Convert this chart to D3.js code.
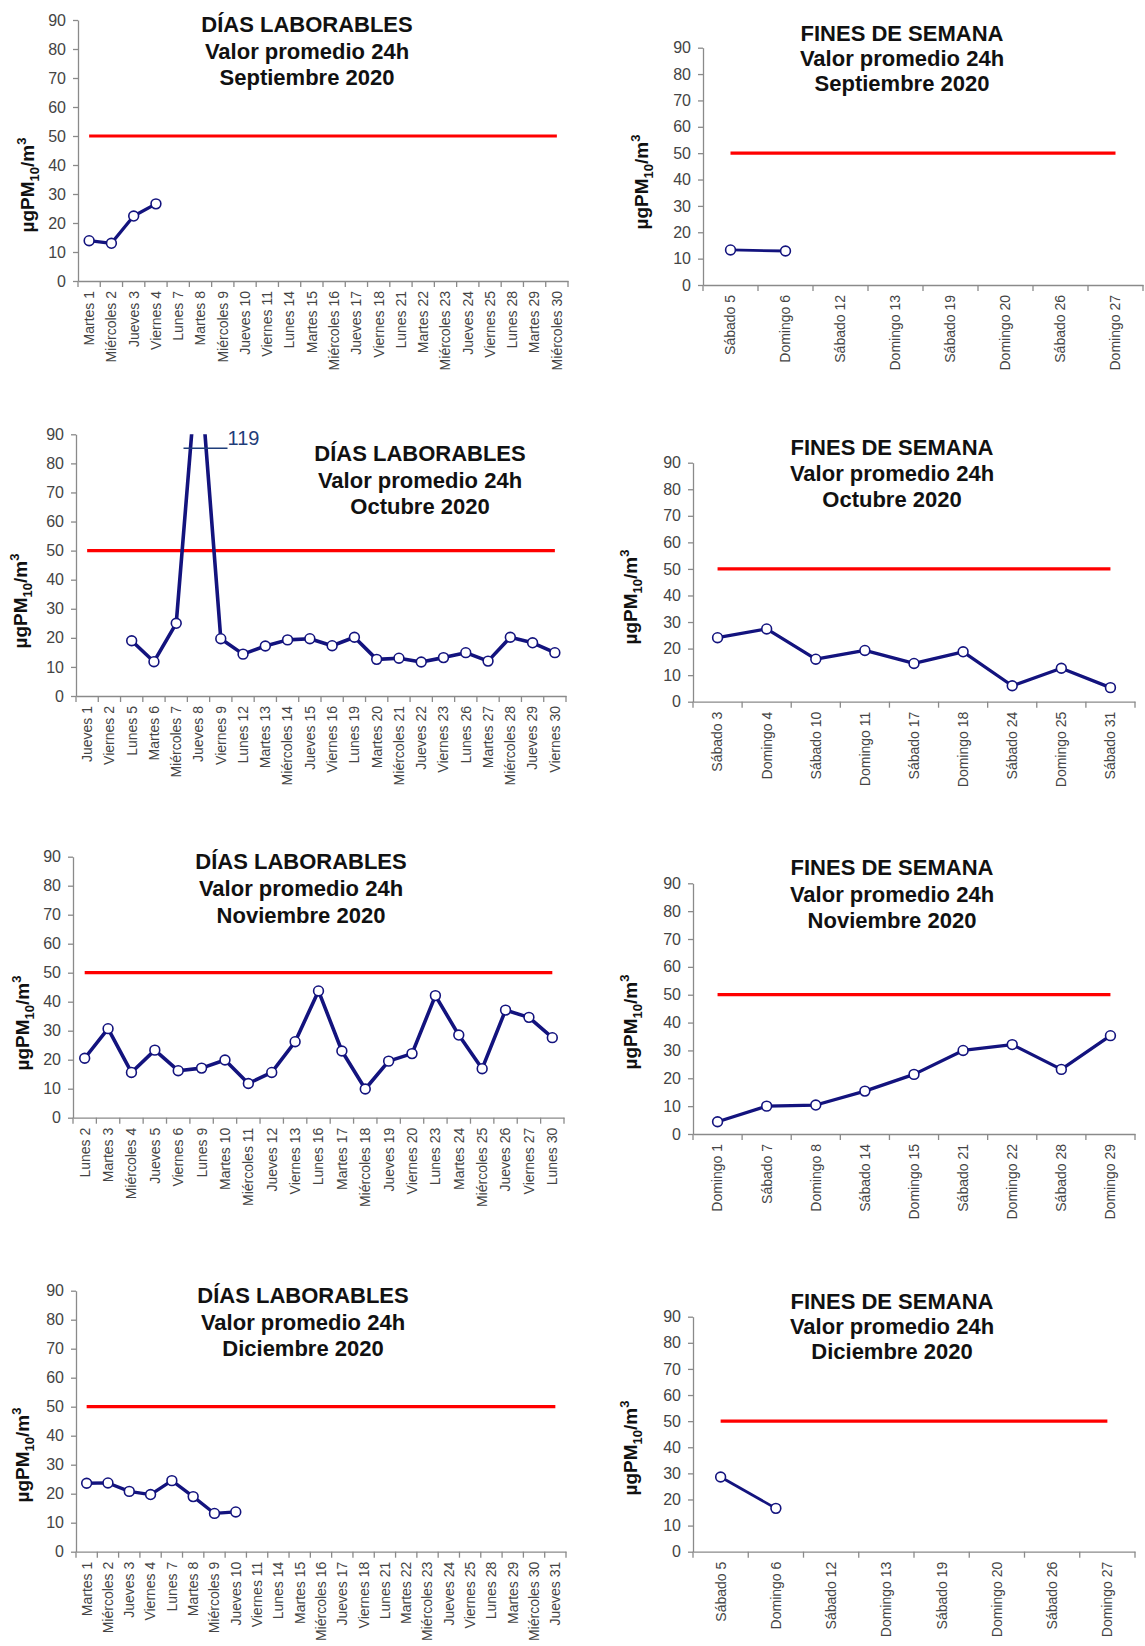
<!DOCTYPE html>
<html><head><meta charset="utf-8">
<script src="https://cdn.jsdelivr.net/npm/d3@7"></script>
<style>
body{margin:0;background:#fff;}
svg{display:block;font-family:"Liberation Sans",Arial,sans-serif;}
</style></head>
<body>
<svg id="c" width="1145" height="1646"></svg>
<script>
// ---------------- DATA ----------------
const limitValue = 50;
const yTicks = [0,10,20,30,40,50,60,70,80,90];

const sepWeekdays = ["Martes 1","Miércoles 2","Jueves 3","Viernes 4","Lunes 7","Martes 8","Miércoles 9","Jueves 10","Viernes 11","Lunes 14","Martes 15","Miércoles 16","Jueves 17","Viernes 18","Lunes 21","Martes 22","Miércoles 23","Jueves 24","Viernes 25","Lunes 28","Martes 29","Miércoles 30"];
const sepWeekdayValues = [13.9,13.0,22.4,26.6,null,null,null,null,null,null,null,null,null,null,null,null,null,null,null,null,null,null];

const sepWeekends = ["Sábado 5","Domingo 6","Sábado 12","Domingo 13","Sábado 19","Domingo 20","Sábado 26","Domingo 27"];
const sepWeekendValues = [13.3,12.9,null,null,null,null,null,null];

const octWeekdays = ["Jueves 1","Viernes 2","Lunes 5","Martes 6","Miércoles 7","Jueves 8","Viernes 9","Lunes 12","Martes 13","Miércoles 14","Jueves 15","Viernes 16","Lunes 19","Martes 20","Miércoles 21","Jueves 22","Viernes 23","Lunes 26","Martes 27","Miércoles 28","Jueves 29","Viernes 30"];
const octWeekdayValues = [null,null,19.0,11.8,25.0,119,19.7,14.4,17.2,19.3,19.7,17.3,20.2,12.6,13.0,11.7,13.2,14.9,12.0,20.2,18.3,14.9];

const octWeekends = ["Sábado 3","Domingo 4","Sábado 10","Domingo 11","Sábado 17","Domingo 18","Sábado 24","Domingo 25","Sábado 31"];
const octWeekendValues = [24.1,27.4,16.0,19.3,14.4,18.8,6.0,12.6,5.3];

const novWeekdays = ["Lunes 2","Martes 3","Miércoles 4","Jueves 5","Viernes 6","Lunes 9","Martes 10","Miércoles 11","Jueves 12","Viernes 13","Lunes 16","Martes 17","Miércoles 18","Jueves 19","Viernes 20","Lunes 23","Martes 24","Miércoles 25","Jueves 26","Viernes 27","Lunes 30"];
const novWeekdayValues = [20.5,30.7,15.6,23.3,16.2,17.1,19.9,11.8,15.6,26.2,43.7,23.0,9.9,19.5,22.1,42.1,28.5,16.9,37.1,34.6,27.6];

const novWeekends = ["Domingo 1","Sábado 7","Domingo 8","Sábado 14","Domingo 15","Sábado 21","Domingo 22","Sábado 28","Domingo 29"];
const novWeekendValues = [4.4,10.0,10.4,15.4,21.4,30.0,32.1,23.2,35.3];

const decWeekdays = ["Martes 1","Miércoles 2","Jueves 3","Viernes 4","Lunes 7","Martes 8","Miércoles 9","Jueves 10","Viernes 11","Lunes 14","Martes 15","Miércoles 16","Jueves 17","Viernes 18","Lunes 21","Martes 22","Miércoles 23","Jueves 24","Viernes 25","Lunes 28","Martes 29","Miércoles 30","Jueves 31"];
const decWeekdayValues = [23.6,23.7,20.8,19.7,24.5,19.0,13.2,13.7,null,null,null,null,null,null,null,null,null,null,null,null,null,null,null];

const decWeekends = ["Sábado 5","Domingo 6","Sábado 12","Domingo 13","Sábado 19","Domingo 20","Sábado 26","Domingo 27"];
const decWeekendValues = [28.6,16.6,null,null,null,null,null,null];

const titleWeekday = "DÍAS LABORABLES";
const titleWeekend = "FINES DE SEMANA";
const subtitle = "Valor promedio 24h";
const months = ["Septiembre 2020","Octubre 2020","Noviembre 2020","Diciembre 2020"];
const outlierLabel = "119";

// ---------------- LAYOUT ----------------
const panels = [
 {cats:sepWeekdays, vals:sepWeekdayValues, t:titleWeekday, m:months[0], x0:78, x1:568, yTop:20, yBot:281, tx:307, tb:[32,59,85], lx:27, ly:185, lw:3.3},
 {cats:sepWeekends, vals:sepWeekendValues, t:titleWeekend, m:months[0], x0:703, x1:1143, yTop:47.7, yBot:285, tx:902, tb:[41,66,91], lx:641, ly:182, lw:2.8},
 {cats:octWeekdays, vals:octWeekdayValues, t:titleWeekday, m:months[1], x0:76, x1:566, yTop:434.3, yBot:696, tx:420, tb:[461,488,514], lx:20, ly:601, lw:3.6, outlier:true},
 {cats:octWeekends, vals:octWeekendValues, t:titleWeekend, m:months[1], x0:693, x1:1135, yTop:462.7, yBot:701.7, tx:892, tb:[455,481,507], lx:630, ly:597, lw:3.3},
 {cats:novWeekdays, vals:novWeekdayValues, t:titleWeekday, m:months[2], x0:73, x1:564, yTop:856.7, yBot:1117.7, tx:301, tb:[869,896,923], lx:22, ly:1023, lw:3.6},
 {cats:novWeekends, vals:novWeekendValues, t:titleWeekend, m:months[2], x0:693, x1:1135, yTop:883.3, yBot:1134, tx:892, tb:[875,902,928], lx:630, ly:1022, lw:3.3},
 {cats:decWeekdays, vals:decWeekdayValues, t:titleWeekday, m:months[3], x0:76, x1:566, yTop:1290.7, yBot:1551.7, tx:303, tb:[1303,1330,1356], lx:22, ly:1455, lw:3.3},
 {cats:decWeekends, vals:decWeekendValues, t:titleWeekend, m:months[3], x0:693, x1:1135, yTop:1316.7, yBot:1551.7, tx:892, tb:[1309,1334,1359], lx:630, ly:1448, lw:2.8}
];

const svg = d3.select("#c");
const axisColor = "#8a8a8a", tickText = "#444", navy = "#13137e";

panels.forEach((p, i) => {
  const g = svg.append("g");
  const x = d3.scaleBand().domain(p.cats).range([p.x0, p.x1]).paddingInner(0).paddingOuter(0);
  const y = d3.scaleLinear().domain([0, 90]).range([p.yBot, p.yTop]);
  const cx = d => x(d) + x.bandwidth() / 2;

  // Y axis
  const ya = g.append("g").attr("transform", `translate(${p.x0},0)`)
    .call(d3.axisLeft(y).tickValues(yTicks).tickSize(5).tickSizeOuter(0).tickPadding(7));
  ya.select(".domain").attr("stroke", axisColor).attr("stroke-width", 1.3);
  ya.selectAll(".tick line").attr("stroke", axisColor).attr("stroke-width", 1.3);
  ya.selectAll(".tick text").attr("fill", tickText).style("font-size", "16px").style("font-family", "'Liberation Sans',Arial,sans-serif");

  // X axis
  const xa = g.append("g").attr("transform", `translate(0,${p.yBot})`)
    .call(d3.axisBottom(x).tickSize(0).tickSizeOuter(0));
  xa.select(".domain").attr("stroke", axisColor).attr("stroke-width", 1.3);
  xa.selectAll(".tick text")
    .attr("transform", "rotate(-90)")
    .attr("text-anchor", "end")
    .attr("x", -10).attr("y", 0).attr("dy", "0.35em")
    .attr("fill", tickText).style("font-size", "14px").style("font-family", "'Liberation Sans',Arial,sans-serif");
  // boundary tick marks
  const bounds = d3.range(p.cats.length + 1).map(k => x.range()[0] + k * x.step());
  xa.selectAll("line.bt").data(bounds).join("line").attr("class", "bt")
    .attr("x1", d => d).attr("x2", d => d).attr("y1", 0).attr("y2", 6)
    .attr("stroke", axisColor).attr("stroke-width", 1.3);

  // limit line
  g.append("line")
    .attr("x1", cx(p.cats[0])).attr("x2", cx(p.cats[p.cats.length - 1]))
    .attr("y1", y(limitValue)).attr("y2", y(limitValue))
    .attr("stroke", "#ff0000").attr("stroke-width", 3.2);

  // clip
  const cid = "clip" + i;
  svg.append("clipPath").attr("id", cid).append("rect")
    .attr("x", p.x0).attr("y", p.yTop).attr("width", p.x1 - p.x0).attr("height", p.yBot - p.yTop + 10);

  const pts = p.cats.map((c, k) => ({c, v: p.vals[k]}));
  const line = d3.line().defined(d => d.v != null).x(d => cx(d.c)).y(d => y(d.v));
  g.append("path").datum(pts).attr("clip-path", `url(#${cid})`)
    .attr("d", line).attr("fill", "none").attr("stroke", navy)
    .attr("stroke-width", p.lw).attr("stroke-linejoin", "round");
  g.append("g").attr("clip-path", `url(#${cid})`).selectAll("circle")
    .data(pts.filter(d => d.v != null && d.v <= 90)).join("circle")
    .attr("cx", d => cx(d.c)).attr("cy", d => y(d.v)).attr("r", 4.9)
    .attr("fill", "#fff").attr("stroke", navy).attr("stroke-width", 1.6);

  // outlier annotation
  if (p.outlier) {
    const oc = pts.find(d => d.v > 90);
    const ox = cx(oc.c);
    g.append("line").attr("x1", ox - 15).attr("x2", ox + 29)
      .attr("y1", y(85.2)).attr("y2", y(85.2))
      .attr("stroke", "#1f3d7a").attr("stroke-width", 1.5);
    g.append("text").attr("x", ox + 29).attr("y", y(86.3))
      .attr("fill", "#1f3d7a").style("font-size", "20px").text(outlierLabel);
  }

  // titles
  const tt = g.append("g").attr("text-anchor", "middle").attr("font-weight", "bold")
    .style("font-size", "22px").attr("fill", "#111");
  [p.t, subtitle, p.m].forEach((s, k) => tt.append("text").attr("x", p.tx).attr("y", p.tb[k]).text(s));

  // y label
  const yl = g.append("text").attr("transform", `translate(${p.lx},${p.ly}) rotate(-90)`)
    .attr("text-anchor", "middle").attr("dy", "0.35em").attr("font-weight", "bold")
    .style("font-size", "19px").attr("fill", "#111");
  yl.append("tspan").text("µgPM");
  yl.append("tspan").attr("dy", 5).style("font-size", "13px").text("10");
  yl.append("tspan").attr("dy", -5).text("/m");
  yl.append("tspan").attr("dy", -8).style("font-size", "13px").text("3");
});
</script>
</body></html>
